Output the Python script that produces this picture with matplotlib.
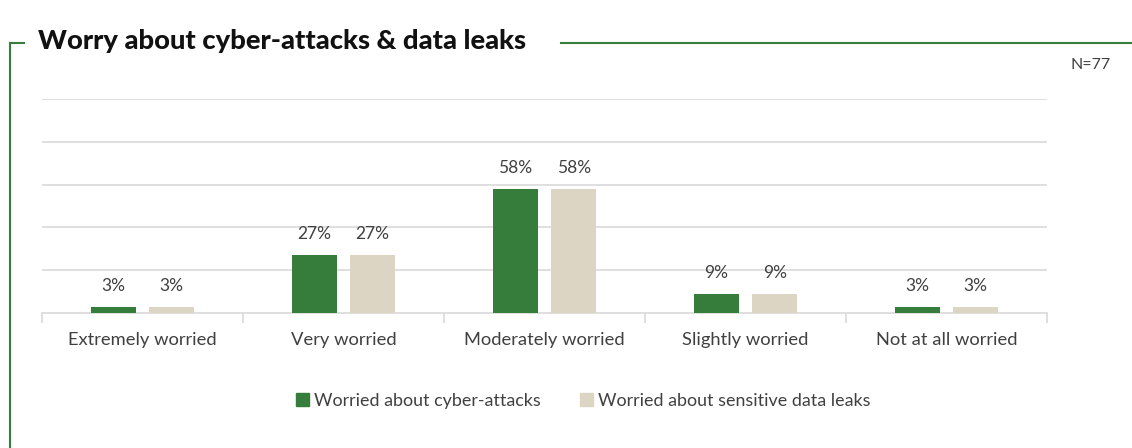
import numpy as np
import matplotlib.pyplot as plt
from matplotlib.lines import Line2D
from matplotlib.patches import Patch

plt.rcParams['font.family'] = ['Lato', 'DejaVu Sans']

categories = ['Extremely worried', 'Very worried', 'Moderately worried',
              'Slightly worried', 'Not at all worried']
cyber = [3, 27, 58, 9, 3]
leaks = [3, 27, 58, 9, 3]
series_names = ['Worried about cyber-attacks', 'Worried about sensitive data leaks']

green = '#367c3a'
beige = '#ddd5c4'
text_col = '#404040'
grid_col = '#d9d9d9'

fig = plt.figure(figsize=(11.32, 4.48), dpi=100)
ax = fig.add_axes([42 / 1132, 1 - 313 / 448, (1047 - 42) / 1132, (313 - 99) / 448])

x = np.arange(len(categories))
w = 0.224
off = 0.145
b1 = ax.bar(x - off, cyber, w, color=green, zorder=3)
b2 = ax.bar(x + off, leaks, w, color=beige, zorder=3)

for bars, vals in ((b1, cyber), (b2, leaks)):
    for rect, v in zip(bars, vals):
        ax.text(rect.get_x() + rect.get_width() / 2, v + 6, f'{v}%',
                ha='center', va='bottom', fontsize=12.5, color=text_col)

ax.set_xlim(-0.5, len(categories) - 0.5)
ax.set_ylim(0, 100)
ax.set_yticks([20, 40, 60, 80, 100])
ax.yaxis.grid(True, color=grid_col, linewidth=1.2, zorder=0)
ax.tick_params(axis='y', left=False, labelleft=False)
for s in ['top', 'right', 'left']:
    ax.spines[s].set_visible(False)
ax.spines['bottom'].set_color(grid_col)
ax.spines['bottom'].set_linewidth(1.2)

# category labels centred, separator ticks between groups
ax.set_xticks(x)
ax.set_xticklabels(categories, fontsize=13.2, color=text_col)
ax.tick_params(axis='x', length=0, pad=14)
ax.set_xticks(np.arange(len(categories) + 1) - 0.5, minor=True)
ax.tick_params(axis='x', which='minor', length=7, color=grid_col, width=1.2)

handles = [Patch(color=green), Patch(color=beige)]
fig.legend(handles, series_names, loc='center', bbox_to_anchor=(583 / 1132, 1 - 401 / 448),
           ncol=2, frameon=False, fontsize=12.9, handlelength=0.75, handleheight=0.75,
           handletextpad=0.25, columnspacing=2.2, labelcolor=text_col)

# title and frame
fig.text(38 / 1132, 1 - 41 / 448, 'Worry about cyber-attacks & data leaks',
         fontsize=19.7, fontweight='black', color='#111111', va='center', ha='left')
fig.text(1111 / 1132, 1 - 65 / 448, 'N=77', fontsize=11.5, color=text_col,
         va='center', ha='right')
frame_kw = dict(color=green, linewidth=1.5, transform=fig.transFigure)
fig.add_artist(Line2D([10 / 1132, 10 / 1132], [0, 1 - 43 / 448], **frame_kw))
fig.add_artist(Line2D([10 / 1132, 24 / 1132], [1 - 43 / 448, 1 - 43 / 448], **frame_kw))
fig.add_artist(Line2D([561 / 1132, 1], [1 - 43 / 448, 1 - 43 / 448], **frame_kw))

fig.savefig('out.png', dpi=100)
